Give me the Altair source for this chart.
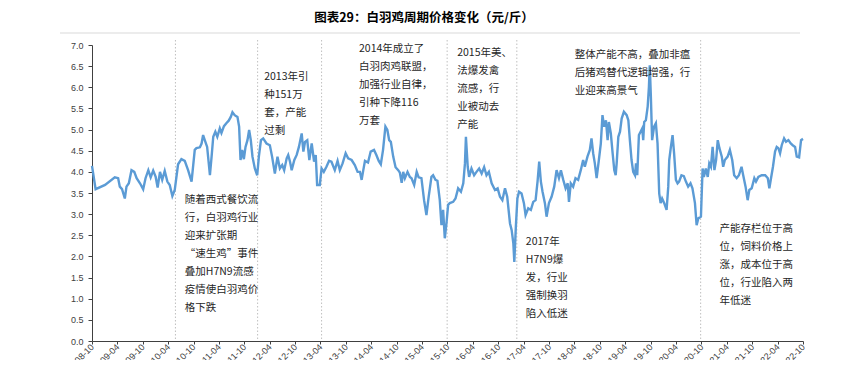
import altair as alt
import pandas as pd

dates = [
    "2008-10-01", "2008-10-27", "2009-01-03", "2009-03-14", "2009-04-07", "2009-04-19", "2009-05-05", "2009-05-25",
    "2009-06-06", "2009-06-23", "2009-07-12", "2009-08-01", "2009-08-18", "2009-09-11", "2009-10-04", "2009-10-21",
    "2009-11-10", "2009-11-27", "2009-12-15", "2010-01-02", "2010-01-16", "2010-02-02", "2010-02-18", "2010-03-08",
    "2010-03-27", "2010-04-13", "2010-05-02", "2010-05-19", "2010-06-12", "2010-07-06", "2010-07-30", "2010-08-23",
    "2010-09-17", "2010-10-10", "2010-10-22", "2010-11-16", "2010-11-28", "2010-12-09", "2010-12-21", "2011-01-07",
    "2011-01-27", "2011-02-08", "2011-02-20", "2011-03-07", "2011-03-21", "2011-04-08", "2011-04-20", "2011-05-08",
    "2011-05-25", "2011-06-11", "2011-06-26", "2011-07-08", "2011-07-24", "2011-08-13", "2011-08-25", "2011-09-04",
    "2011-09-16", "2011-09-28", "2011-10-10", "2011-10-24", "2011-11-05", "2011-11-17", "2011-11-29", "2011-12-16",
    "2012-01-02", "2012-01-14", "2012-01-29", "2012-02-14", "2012-03-09", "2012-04-02", "2012-04-18", "2012-05-08",
    "2012-05-27", "2012-06-13", "2012-06-30", "2012-07-14", "2012-08-01", "2012-08-12", "2012-08-25", "2012-09-06",
    "2012-09-25", "2012-10-12", "2012-10-28", "2012-11-17", "2012-11-29", "2012-12-11", "2012-12-27", "2013-01-11",
    "2013-01-28", "2013-02-14", "2013-02-26", "2013-03-08", "2013-03-27", "2013-04-09", "2013-04-25", "2013-05-14",
    "2013-06-02", "2013-06-19", "2013-07-13", "2013-08-02", "2013-08-18", "2013-09-07", "2013-09-29", "2013-10-17",
    "2013-11-11", "2013-12-04", "2013-12-24", "2014-01-10", "2014-01-22", "2014-02-03", "2014-02-15", "2014-03-09",
    "2014-03-28", "2014-04-21", "2014-05-08", "2014-05-25", "2014-06-09", "2014-06-25", "2014-07-12", "2014-07-26",
    "2014-08-08", "2014-08-20", "2014-09-06", "2014-09-23", "2014-10-12", "2014-10-24", "2014-11-06", "2014-11-17",
    "2014-11-29", "2014-12-18", "2015-01-04", "2015-01-16", "2015-02-04", "2015-02-22", "2015-03-08", "2015-03-28",
    "2015-04-16", "2015-05-03", "2015-05-19", "2015-06-08", "2015-06-20", "2015-07-07", "2015-07-21", "2015-08-07",
    "2015-08-19", "2015-08-31", "2015-09-12", "2015-09-24", "2015-10-06", "2015-10-18", "2015-11-11", "2015-11-28",
    "2015-12-17", "2016-01-06", "2016-01-23", "2016-02-04", "2016-02-11", "2016-02-24", "2016-03-05", "2016-03-22",
    "2016-04-10", "2016-04-27", "2016-05-16", "2016-06-03", "2016-06-21", "2016-07-08", "2016-07-25", "2016-08-14",
    "2016-09-07", "2016-09-26", "2016-10-13", "2016-10-30", "2016-11-18", "2016-12-04", "2016-12-24", "2017-01-05",
    "2017-01-17", "2017-01-24", "2017-02-04", "2017-02-15", "2017-02-27", "2017-03-17", "2017-04-03", "2017-04-15",
    "2017-05-04", "2017-05-23", "2017-06-09", "2017-06-26", "2017-07-10", "2017-07-22", "2017-08-03", "2017-08-15",
    "2017-09-01", "2017-09-13", "2017-09-30", "2017-10-19", "2017-11-07", "2017-11-24", "2017-12-11", "2017-12-25",
    "2018-01-11", "2018-01-28", "2018-02-12", "2018-02-21", "2018-03-06", "2018-03-23", "2018-04-09", "2018-04-28",
    "2018-05-17", "2018-06-03", "2018-06-15", "2018-07-04", "2018-07-21", "2018-08-02", "2018-08-14", "2018-08-26",
    "2018-09-08", "2018-09-24", "2018-10-08", "2018-10-20", "2018-11-01", "2018-11-14", "2018-11-26", "2018-12-05",
    "2018-12-19", "2019-01-01", "2019-01-13", "2019-01-23", "2019-01-30", "2019-02-11", "2019-02-23", "2019-03-07",
    "2019-03-23", "2019-04-12", "2019-04-24", "2019-05-05", "2019-05-17", "2019-05-29", "2019-06-11", "2019-06-18",
    "2019-06-27", "2019-07-09", "2019-07-21", "2019-08-02", "2019-08-09", "2019-08-16", "2019-08-28", "2019-09-10",
    "2019-09-19", "2019-09-25", "2019-10-03", "2019-10-12", "2019-10-26", "2019-11-08", "2019-11-20", "2019-12-02",
    "2019-12-12", "2019-12-23", "2020-01-07", "2020-01-24", "2020-02-05", "2020-02-12", "2020-02-24", "2020-03-07",
    "2020-03-18", "2020-03-31", "2020-04-12", "2020-04-23", "2020-05-10", "2020-05-27", "2020-06-11", "2020-06-27",
    "2020-07-14", "2020-07-28", "2020-08-15", "2020-08-27", "2020-09-08", "2020-09-27", "2020-10-09", "2020-10-18",
    "2020-11-01", "2020-11-15", "2020-11-26", "2020-12-08", "2020-12-20", "2021-01-02", "2021-01-14", "2021-01-26",
    "2021-02-07", "2021-02-24", "2021-03-06", "2021-03-18", "2021-04-07", "2021-04-23", "2021-05-10", "2021-05-24",
    "2021-06-11", "2021-06-27", "2021-07-16", "2021-07-28", "2021-08-14", "2021-08-29", "2021-09-10", "2021-09-27",
    "2021-10-16", "2021-10-28", "2021-11-14", "2021-12-08", "2022-01-02", "2022-01-21", "2022-02-01", "2022-02-13",
    "2022-02-27", "2022-03-14", "2022-03-26", "2022-04-07", "2022-04-19", "2022-05-01", "2022-05-18", "2022-06-01",
    "2022-06-18", "2022-07-05", "2022-07-19", "2022-08-05", "2022-08-17", "2022-09-03", "2022-09-17", "2022-10-01",
]

prices = [
    4.14, 3.59, 3.69, 3.87, 3.85, 3.65, 3.59, 3.37,
    3.65, 3.73, 4.04, 4.00, 3.85, 3.73, 3.59, 3.85,
    4.04, 3.87, 4.03, 3.88, 3.63, 4.00, 3.81, 4.02,
    3.77, 3.69, 3.43, 3.57, 4.18, 4.30, 4.26, 4.04,
    3.77, 4.52, 4.56, 4.58, 4.67, 4.87, 4.75, 4.59,
    3.92, 4.36, 4.83, 4.95, 4.83, 5.03, 4.92, 5.08,
    5.15, 5.21, 5.30, 5.41, 5.34, 5.30, 5.07, 4.28,
    4.52, 4.30, 4.59, 4.75, 4.99, 4.75, 4.36, 4.08,
    3.92, 4.36, 4.75, 4.79, 4.67, 4.63, 4.36, 3.96,
    4.36, 4.08, 4.16, 4.04, 4.32, 4.40, 4.24, 4.04,
    4.28, 4.40, 4.59, 4.91, 4.48, 4.71, 4.75, 4.28,
    4.67, 4.24, 4.40, 3.69, 3.69, 4.08, 4.00, 4.12,
    4.26, 4.24, 4.04, 4.26, 4.04, 4.20, 4.44, 4.32,
    4.28, 4.16, 4.00, 4.00, 3.81, 4.04, 4.26, 4.22,
    4.48, 4.52, 4.40, 4.26, 4.18, 4.52, 5.07, 4.99,
    4.75, 4.71, 4.36, 4.11, 4.04, 3.98, 3.74, 4.00,
    3.85, 4.00, 3.88, 3.85, 3.69, 4.00, 3.87, 3.85,
    3.33, 2.98, 3.41, 3.88, 3.92, 3.81, 3.79, 3.33,
    2.74, 3.10, 2.43, 2.78, 3.22, 3.26, 3.29, 3.37,
    3.61, 3.53, 3.73, 4.20, 4.83, 4.12, 3.88, 4.08,
    3.92, 4.00, 4.08, 3.96, 4.11, 3.92, 4.00, 3.73,
    3.57, 3.61, 3.41, 3.33, 3.61, 3.41, 2.78, 2.62,
    2.31, 1.87, 2.70, 3.37, 3.53, 3.49, 3.26, 2.98,
    3.14, 3.10, 3.29, 3.33, 3.77, 4.24, 3.77, 3.53,
    3.26, 2.94, 3.26, 3.41, 3.65, 4.04, 3.85, 4.04,
    3.81, 3.61, 3.73, 3.29, 3.73, 3.65, 3.85, 3.81,
    4.04, 4.28, 4.12, 4.36, 4.52, 4.79, 4.44, 4.20,
    3.85, 4.28, 4.67, 5.34, 5.07, 5.22, 4.75, 5.18,
    4.91, 4.44, 4.04, 3.92, 4.20, 4.83, 4.95, 5.26,
    5.42, 5.34, 5.22, 4.75, 4.28, 4.00, 3.92, 4.20,
    3.92, 4.87, 4.95, 5.03, 4.75, 5.18, 5.22, 5.54,
    6.01, 6.52, 5.78, 4.75, 5.07, 5.15, 4.67, 3.49,
    3.26, 3.37, 3.26, 3.10, 3.65, 4.28, 4.59, 4.87,
    4.44, 3.81, 3.73, 3.77, 3.92, 3.90, 3.77, 3.65,
    3.73, 3.61, 3.26, 2.74, 2.90, 2.94, 4.08, 3.88,
    4.08, 3.88, 4.20, 4.12, 4.59, 4.04, 4.28, 4.75,
    4.56, 4.36, 4.12, 4.28, 4.36, 4.52, 4.28, 3.92,
    3.85, 3.92, 4.12, 3.92, 3.65, 3.33, 3.57, 3.61,
    3.85, 3.77, 3.88, 3.92, 3.92, 3.85, 3.61, 3.85,
    4.12, 4.48, 4.59, 4.56, 4.44, 4.63, 4.79, 4.71,
    4.75, 4.67, 4.63, 4.59, 4.36, 4.34, 4.75, 4.78,
]

x_tick_labels = [
    "2008-10", "2009-04", "2009-10", "2010-04", "2010-10", "2011-04", "2011-10", "2012-04",
    "2012-10", "2013-04", "2013-10", "2014-04", "2014-10", "2015-04", "2015-10", "2016-04",
    "2016-10", "2017-04", "2017-10", "2018-04", "2018-10", "2019-04", "2019-10", "2020-04",
    "2020-10", "2021-04", "2021-10", "2022-04", "2022-10",
]
y_tick_values = [0.0, 0.5, 1.0, 1.5, 2.0, 2.5, 3.0, 3.5, 4.0, 4.5, 5.0, 5.5, 6.0, 6.5, 7.0]

divider_dates = ["2010-05-24", "2012-01-05", "2013-04-09", "2015-09-29", "2017-02-11", "2020-09-25"]

note_dates = ["2010-07-30", "2012-02-21", "2014-01-03", "2015-12-10", "2018-04-04", "2017-04-17", "2021-02-07"]
note_values = [3.46, 6.35, 7.03, 6.92, 6.87, 2.45, 2.77]
note_lines = [
    ["随着西式餐饮流", "行，白羽鸡行业", "迎来扩张期", "“速生鸡”事件", "叠加H7N9流感", "疫情使白羽鸡价", "格下跌"],
    ["2013年引", "种151万", "套，产能", "过剩"],
    ["2014年成立了", "白羽肉鸡联盟，", "加强行业自律，", "引种下降116", "万套"],
    ["2015年美、", "法爆发禽", "流感，行", "业被动去", "产能"],
    ["整体产能不高，叠加非瘟", "后猪鸡替代逻辑增强，行", "业迎来高景气"],
    ["2017年", "H7N9爆", "发，行业", "强制换羽", "陷入低迷"],
    ["产能存栏位于高", "位，饲料价格上", "涨，成本位于高", "位，行业陷入两", "年低迷"],
]

title_text = "图表29：白羽鸡周期价格变化（元/斤）"

CJK = "Noto Sans CJK SC"
W, H = 711, 296

df = pd.DataFrame({"date": dates, "price": prices})
div_df = pd.DataFrame({"date": divider_dates})
note_df = pd.DataFrame({
    "date": note_dates,
    "value": note_values,
    "text": ["\n".join(l) for l in note_lines],
})
title_df = pd.DataFrame({"t": [title_text]})

xscale = alt.Scale(
    type="utc",
    domain=[alt.DateTime(year=2008, month=10, date=1, utc=True),
            alt.DateTime(year=2022, month=10, date=1, utc=True)],
)
yscale = alt.Scale(domain=[0, 7], nice=False, zero=False)

xaxis = alt.Axis(
    values=[alt.DateTime(year=int(t[:4]), month=int(t[5:]), date=1, utc=True) for t in x_tick_labels],
    labelExpr="utcFormat(datum.value, '%Y-%m')",
    labelAngle=315, labelAlign="right", labelBaseline="middle",
    labelOverlap=False, labelFlush=False, labelBound=False, tickSize=3, labelPadding=1,
    grid=False, title=None,
)
yaxis = alt.Axis(values=y_tick_values, format=".1f", labelOverlap=False, tickSize=4, labelPadding=5,
                 grid=False, title=None)

X = alt.X("date:T", scale=xscale, axis=xaxis)

line = alt.Chart(df).mark_line(color="#5B9BD5", strokeWidth=2.4).encode(
    x=X,
    y=alt.Y("price:Q", scale=yscale, axis=yaxis),
)

dividers = alt.Chart(div_df).mark_rule(color="#BFBFBF", strokeWidth=1, strokeDash=[1.5, 2]).encode(
    x=X,
    y=alt.value(-5),
    y2=alt.value(H),
)

notes = alt.Chart(note_df).mark_text(
    align="left", baseline="top", lineBreak="\n", lineHeight=18,
    fontSize=10.5, font=CJK, color="#262626",
).encode(
    x=X,
    y=alt.Y("value:Q", scale=yscale, axis=yaxis),
    text="text:N",
)

title = alt.Chart(title_df).mark_text(
    align="center", baseline="middle", fontSize=12.5, fontWeight="bold", font=CJK, color="#000000",
).encode(x=alt.value(424 - 92), y=alt.value(-27), text="t:N")

header_rule = alt.Chart(title_df).mark_rule(color="#D9D9D9", strokeWidth=1).encode(
    x=alt.value(60 - 92), x2=alt.value(800 - 92), y=alt.value(-12)
)

chart = alt.layer(dividers, line, notes, title, header_rule).properties(
    width=W, height=H,
    autosize=alt.AutoSizeParams(type="none"),
    padding={"left": 84, "top": 37, "right": 37, "bottom": 19},
).configure_view(stroke=None).configure_axis(
    domainColor="#404040", tickColor="#404040", labelColor="#404040",
    labelFont="Liberation Sans", labelFontSize=9,
)

chart.save("out.html", embed_options={"renderer": "svg", "actions": False})
